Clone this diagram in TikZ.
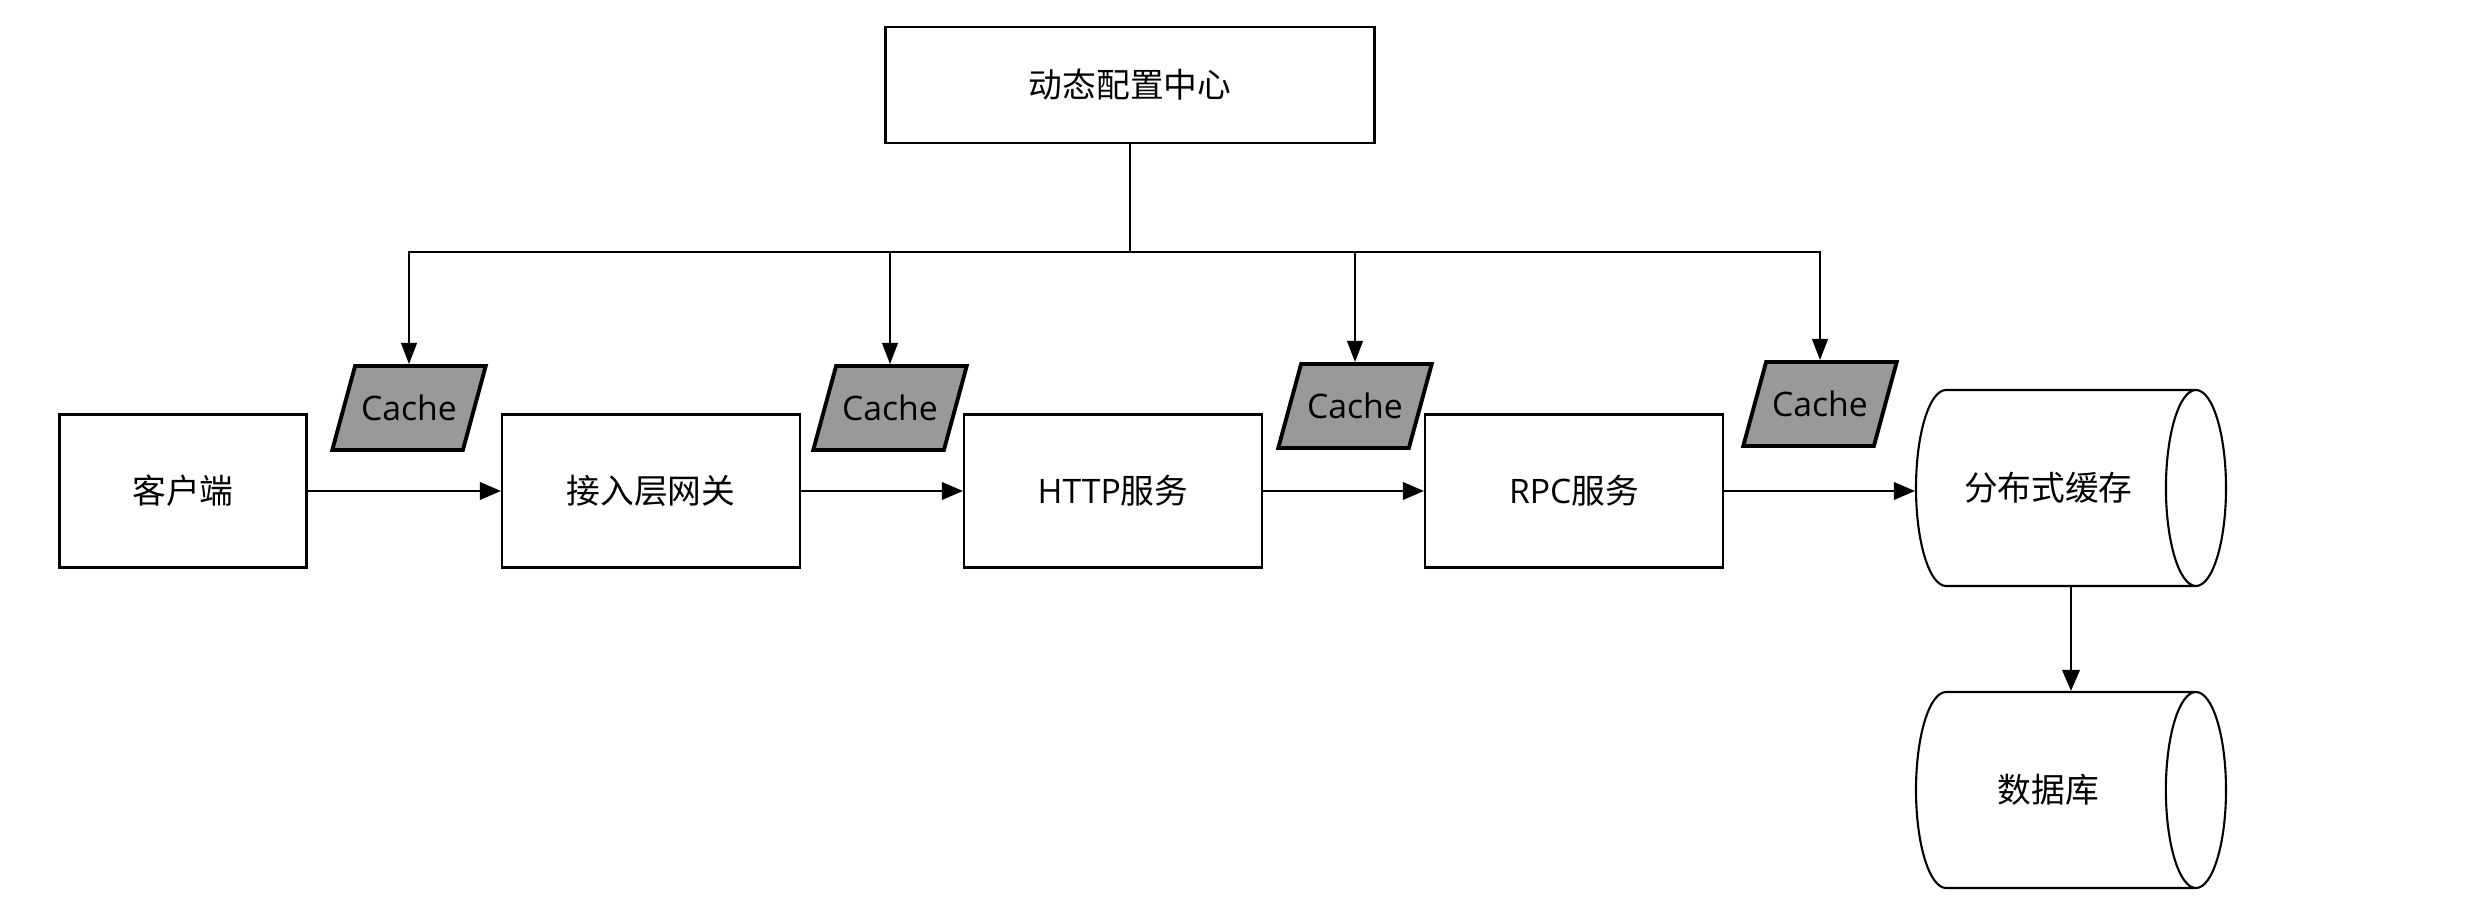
\documentclass[tikz,border=0pt]{standalone}
\usepackage{fontspec}
\setmainfont{Open Sans}
\newfontfamily\cjk{Noto Sans CJK SC}
\usetikzlibrary{shapes.geometric,arrows.meta}
\begin{document}
\begin{tikzpicture}[x=0.1mm,y=-0.1mm,
  font=\fontsize{9.6}{11}\selectfont,
  box/.style={draw, line width=0.6pt, minimum width=2.98cm, minimum height=1.53cm},
  cachebox/.style={trapezium, trapezium left angle=52, trapezium right angle=128, trapezium stretches=true, draw, line width=1.1pt, fill=black!40, minimum width=1.54cm, minimum height=0.84cm, inner sep=0pt},
  store/.style={cylinder, draw, line width=0.6pt, aspect=1.1, minimum width=1.96cm, minimum height=3.1cm, anchor=shape center},
  link/.style={line width=0.6pt, -{Triangle[length=6pt,width=5pt]}},
  feed/.style={line width=0.45pt, -{Triangle[length=6pt,width=4.5pt]}}]
\useasboundingbox (0,0) rectangle (2482,921);
\node[box, minimum width=4.89cm, minimum height=1.16cm] (cfg) at (1130,85){\cjk 动态配置中心};
\node[box, minimum width=2.47cm] (client) at (183,491){\cjk 客户端};
\node[box] (gw) at (651,491){\cjk 接入层网关};
\node[box] (http) at (1113,491){HTTP{\cjk 服务}};
\node[box] (rpc) at (1574,491){RPC{\cjk 服务}};
\node[store] (dist) at (2071,488){\cjk 分布式缓存};
\node[store] (db) at (2071,790){\cjk 数据库};
\node[cachebox] (c1) at (409,408){Cache};
\node[cachebox] (c2) at (890,408){Cache};
\node[cachebox] (c3) at (1355,406){Cache};
\node[cachebox] (c4) at (1820,404){Cache};
\coordinate (bus) at (1130,252);
\draw[line width=0.45pt](cfg.south) -- (bus);
\foreach \c in {c1,c2,c3,c4}
  \draw[feed](bus) -| (\c.north);
\draw[link](client) -- (gw);
\draw[link](gw) -- (http);
\draw[link](http) -- (rpc);
\draw[link](rpc.east) -- (rpc.east -| dist.west);
\draw[link](dist.shape center |- dist.south) -- (dist.shape center |- db.north);
\end{tikzpicture}
\end{document}
